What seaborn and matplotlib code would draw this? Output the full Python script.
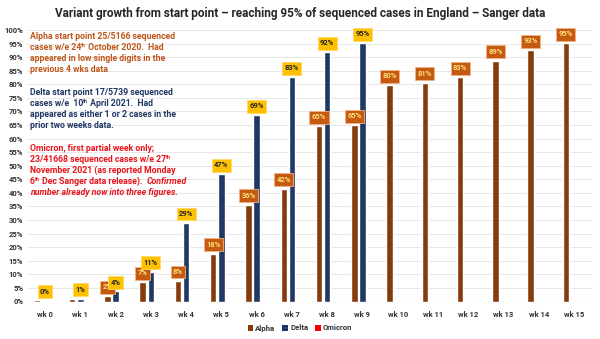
import matplotlib
matplotlib.use("Agg")
import matplotlib.pyplot as plt
import seaborn as sns
import pandas as pd
from matplotlib.patches import Patch

# ---- data -------------------------------------------------------------
weeks = [f"wk {i}" for i in range(16)]
alpha = [0.5, 0.8, 2.0, 7.1, 7.6, 17.6, 35.7, 41.6, 64.6, 64.9,
         79.7, 80.6, 82.7, 88.7, 92.6, 95.2]
delta = [0.3, 1.1, 3.7, 11.0, 29.0, 46.9, 68.6, 82.6, 91.8, 95.1]
omicron = [0.055]
# weeks whose Alpha value is shown as a label
alpha_labelled = [False, False] + [True] * 14
variants = ["Alpha", "Delta", "Omicron"]
colors = {"Alpha": "#843C0C", "Delta": "#1F3864", "Omicron": "#FF0000"}

rows = []
for name, vals in zip(variants, [alpha, delta, omicron]):
    for w, v in zip(weeks, vals):
        rows.append({"week": w, "variant": name, "pct": v})
df = pd.DataFrame(rows)

# ---- style ------------------------------------------------------------
FONT = "Roboto"
sns.set_theme(style="whitegrid")
plt.rcParams["font.family"] = [FONT, "DejaVu Sans"]

W, H = 600, 339
fig = plt.figure(figsize=(W / 100, H / 100), dpi=100)
ax = fig.add_axes([27.4 / W, 1 - 301.5 / H, (591.6 - 27.4) / W, (301.5 - 30) / H])

sns.barplot(data=df, x="week", y="pct", hue="variant", order=weeks,
            hue_order=variants, palette=colors, width=0.69, gap=0.2,
            saturation=1, legend=False, ax=ax)

ax.set_xlim(-0.5, 15.5)
ax.set_ylim(0, 100)
ax.set_yticks(range(0, 101, 5))
ax.set_yticklabels([f"{t}%" for t in range(0, 101, 5)])
ax.set_xlabel("")
ax.set_ylabel("")
ax.grid(axis="y", color="#E3E3E3", linewidth=0.6)
ax.grid(axis="x", visible=False)
for s in ax.spines.values():
    s.set_visible(False)
ax.axhline(0, color="#D0D0D0", linewidth=0.8, zorder=0.5)
ax.tick_params(axis="both", length=0, labelsize=5.5, labelcolor="#333333", pad=3)
for lab in ax.get_xticklabels() + ax.get_yticklabels():
    lab.set_fontweight("bold")
ax.tick_params(axis="x", pad=7)

# ---- value labels -----------------------------------------------------
label_style = {
    "Alpha": dict(fc="#C55A11", ec="#F4B183", tc="#FFE07A"),
    "Delta": dict(fc="#FFC000", ec="#FFD966", tc="#262626"),
}
for cont, name in zip(ax.containers, variants):
    if name not in label_style:
        continue
    st = label_style[name]
    vals = alpha if name == "Alpha" else delta
    labels = []
    for i, v in enumerate(vals):
        if name == "Alpha" and not alpha_labelled[i]:
            labels.append("")
        else:
            labels.append(f"{v:.0f}%")
    texts = ax.bar_label(cont, labels=labels, padding=3.5, fontsize=5.4,
                         fontweight="bold", color=st["tc"])
    for t in texts:
        t.set_bbox(dict(boxstyle="square,pad=0.32", fc=st["fc"],
                        ec=st["ec"], lw=0.6))

# ---- title ------------------------------------------------------------
fig.text(0.5, 1 - 14 / H,
         "Variant growth from start point \u2013 reaching 95% of sequenced "
         "cases in England \u2013 Sanger data",
         ha="center", va="center", fontsize=8.5, fontweight="bold",
         color="#262626")

# ---- notes ------------------------------------------------------------
NOTE_SIZE = 6.3
renderer = fig.canvas.get_renderer()


def note_line(segments, y, color):
    """Draw one line made of (text, kind) pieces side by side.
    kind: 'n' normal, 's' superscript, 'i' italic."""
    x = 30.0
    base = y + 3
    for txt, kind in segments:
        size = NOTE_SIZE * (0.65 if kind == "s" else 1.0)
        yy = base - (3.2 if kind == "s" else 0)
        t = fig.text(x / W, 1 - yy / H, txt, ha="left", va="baseline",
                     fontsize=size, fontweight="bold",
                     fontstyle="italic" if kind == "i" else "normal",
                     color=color)
        x = t.get_window_extent(renderer=renderer).x1


def note(lines, ys, color):
    for line, y in zip(lines, ys):
        segs = line if isinstance(line, list) else [(line, "n")]
        note_line(segs, y, color)


note(["Alpha start point 25/5166 sequenced",
      [("cases w/e 24", "n"), ("th", "s"), (" October 2020.  Had", "n")],
      "appeared in low single digits in the",
      "previous 4 wks data"],
     [36, 47, 58, 69], "#C0561A")

note(["Delta start point 17/5739 sequenced",
      [("cases w/e  10", "n"), ("th", "s"), (" April 2021.  Had", "n")],
      "appeared as either 1 or 2 cases in the",
      "prior two weeks data."],
     [92, 103, 114, 125.5], "#203864")

note(["Omicron, first partial week only;",
      [("23/41668 sequenced cases w/e 27", "n"), ("th", "s")],
      "November 2021 (as reported Monday",
      [("6", "n"), ("th", "s"), (" Dec Sanger data release).  ", "n"),
       ("Confirmed", "i")],
      [("number already now into three figures.", "i")]],
     [148, 159, 170, 181, 192], "#E8141B")

# ---- legend -----------------------------------------------------------
handles = [Patch(facecolor=colors[v], edgecolor="none", label=v) for v in variants]
leg = fig.legend(handles=handles, loc="center", bbox_to_anchor=(0.5, 11 / H),
                 ncol=3, frameon=False, fontsize=5.6, handlelength=0.7,
                 handleheight=0.7, handletextpad=0.3, columnspacing=0.9)
for t in leg.get_texts():
    t.set_fontweight("bold")
    t.set_color("#333333")

fig.savefig("out.png", dpi=100)
